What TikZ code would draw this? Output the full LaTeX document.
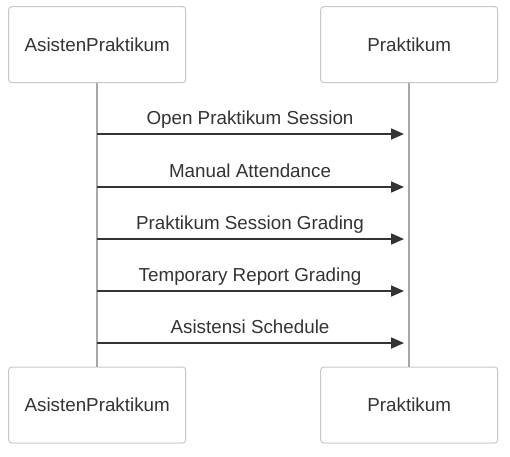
\documentclass[tikz,border=0pt]{standalone}
\usepackage{fontspec}
\setmainfont{Liberation Sans}
\usetikzlibrary{arrows.meta}
\definecolor{txt}{HTML}{333333}
\definecolor{boxline}{HTML}{C8C8C8}
\definecolor{life}{HTML}{A8A8A8}
\begin{document}
\begin{tikzpicture}[x=1pt,y=-1pt,
  actor/.style={draw=boxline,line width=1pt,rounded corners=3pt,minimum width=177pt,minimum height=76pt,fill=white,text=txt,font=\fontsize{18.8}{22}\selectfont},
  lifeline/.style={draw=life,line width=2pt},
  msg/.style={draw=txt,line width=1.7pt,-{Triangle[length=13pt,width=11pt]}},
  lbl/.style={text=txt,font=\fontsize{18.8}{22}\selectfont}]
\useasboundingbox (0,0) rectangle (510,456);
\node[actor] (a1) at (97.2,44.7) {AsistenPraktikum};
\node[actor] (p1) at (409.2,44.7) {Praktikum};
\node[actor] (a2) at (97.2,405) {AsistenPraktikum};
\node[actor] (p2) at (409.2,405) {Praktikum};
\draw[lifeline] (a1.south) -- (a2.north);
\draw[lifeline] (p1.south) -- (p2.north);
\foreach \i/\y/\t in {1/134/Open Praktikum Session,2/187/Manual Attendance,3/239/Praktikum Session Grading,4/291/Temporary Report Grading,5/343/Asistensi Schedule}{
  \coordinate (s\i) at (97.2,\y);
  \coordinate (e\i) at (404,\y);
  \draw[msg] (s\i) -- (e\i);
  \node[lbl,anchor=base] (l\i) at (250,\y-10) {\t};
}
\end{tikzpicture}
\end{document}
